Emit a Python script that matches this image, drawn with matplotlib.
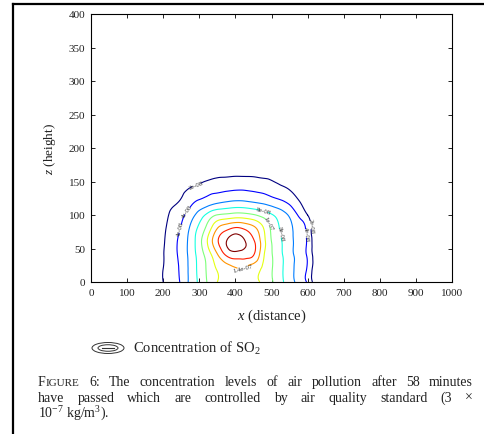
import numpy as np
import matplotlib
matplotlib.use('Agg')
import matplotlib.pyplot as plt
import matplotlib.tri as mtri
from matplotlib.lines import Line2D
from matplotlib.patches import Ellipse

# ---------------- data ----------------
x_nodes = [150, 175, 200, 225, 250, 275, 300, 325, 350, 375, 400,
           425, 450, 475, 500, 525, 550, 575, 600, 625, 650]
z_nodes = [0, 20, 40, 60, 80, 100, 120, 140, 160, 180, 200]
# SO2 concentration in units of 1e-8 kg/m^3 (rows: z_nodes, cols: x_nodes)
conc_e8 = [
    [0, 1.00, 2.00, 3.06, 4.29, 6.52, 8.40, 10.33, 12.00, 12.60, 13.20,
     13.17, 12.52, 11.71, 10.29, 8.57, 6.94, 5.39, 3.71, 0.56, 0],
    [0, 1.00, 2.00, 3.11, 4.43, 6.56, 8.56, 10.52, 12.16, 12.98, 13.80,
     13.80, 12.84, 11.81, 10.19, 8.43, 6.85, 5.35, 3.71, 0.56, 0],
    [0, 1.04, 1.92, 3.18, 4.67, 6.61, 8.82, 11.09, 13.76, 16.17, 17.00,
     16.84, 16.06, 12.67, 10.18, 8.36, 6.79, 5.31, 3.71, 0.56, 0],
    [0, 0.91, 1.82, 3.14, 4.71, 6.67, 9.29, 12.40, 15.73, 18.00, 19.30,
     18.22, 16.37, 13.18, 10.00, 8.21, 6.71, 5.28, 3.67, 0.33, 0],
    [0, 0.83, 1.67, 2.79, 4.17, 6.26, 8.50, 11.00, 14.00, 15.43, 16.30,
     15.76, 14.57, 12.38, 9.63, 7.84, 6.53, 5.17, 3.33, 0.11, 0],
    [0, 0.75, 1.49, 2.36, 3.47, 5.00, 6.89, 8.67, 10.07, 10.44, 10.80,
     10.70, 10.20, 9.33, 8.22, 7.02, 5.69, 3.79, 2.00, 0.00, 0],
    [0, 0.53, 1.05, 1.58, 2.23, 3.40, 4.30, 4.93, 5.55, 5.95, 6.20,
     6.14, 5.84, 5.49, 4.91, 4.34, 3.49, 2.21, 0.65, 0.00, 0],
    [0, 0.00, 0.00, 0.69, 1.39, 2.07, 2.63, 3.19, 3.41, 3.56, 3.70,
     3.70, 3.54, 3.34, 2.90, 2.40, 1.78, 0.67, 0.00, 0.00, 0],
    [0, 0.00, 0.00, 0.00, 0.00, 0.40, 0.80, 1.20, 1.60, 1.70, 1.80,
     1.78, 1.75, 1.58, 1.40, 0.82, 0.23, 0.00, 0.00, 0.00, 0],
    [0, 0.00, 0.00, 0.00, 0.00, 0.00, 0.20, 0.35, 0.45, 0.50, 0.55,
     0.55, 0.50, 0.40, 0.30, 0.10, 0.00, 0.00, 0.00, 0.00, 0],
    [0] * 21,
]
levels = [2e-8, 4e-8, 6e-8, 8e-8, 1e-7, 1.2e-7, 1.4e-7, 1.6e-7, 1.8e-7]
x_ticks = [0, 100, 200, 300, 400, 500, 600, 700, 800, 900, 1000]
z_ticks = [0, 50, 100, 150, 200, 250, 300, 350, 400]
xlabel = "$x$ (distance)"
ylabel = "$z$ (height)"
legend_text = "Concentration of SO$_2$"
caption_line1 = "The concentration levels of air pollution after 58 minutes"
caption_line2 = "have passed which are controlled by air quality standard (3 \u00d7"
caption_line3 = "10$^{-7}$ kg/m$^3$)."

# ---------------- style ----------------
SERIF = 'Liberation Serif'
plt.rcParams['font.family'] = SERIF
plt.rcParams['mathtext.fontset'] = 'custom'
plt.rcParams['mathtext.rm'] = SERIF
plt.rcParams['mathtext.it'] = SERIF + ':italic'
plt.rcParams['mathtext.bf'] = SERIF + ':bold'

W, H = 484, 435
fig = plt.figure(figsize=(W / 100, H / 100), dpi=100)
fig.patch.set_facecolor('white')

ax = fig.add_axes([91 / W, 1 - 283 / H, (452 - 91) / W, (283 - 15) / H])

X, Z = np.meshgrid(np.array(x_nodes, float), np.array(z_nodes, float))
C = np.array(conc_e8, float) * 1e-8
tri = mtri.Triangulation(X.ravel(), Z.ravel())
refiner = mtri.UniformTriRefiner(tri)
tri_f, c_f = refiner.refine_field(C.ravel(), subdiv=3)

cs = ax.tricontour(tri_f, c_f, levels=levels, cmap='jet',
                   vmin=levels[0], vmax=levels[-1], linewidths=0.8)
label_spots = [(290, 148), (262, 108), (258, 78), (608, 85), (590, 72),
               (520, 72), (497, 90), (478, 104), (420, 22)]
ax.clabel(cs, fmt='%g', fontsize=4.8, inline=True, inline_spacing=1,
          manual=label_spots, colors='#333333')

ax.set_xlim(0, 1000)
ax.set_ylim(0, 400)
ax.set_xticks(x_ticks)
ax.set_yticks(z_ticks)
ax.tick_params(direction='in', top=True, right=True, length=3, width=0.7,
               labelsize=8, pad=4, colors='#222222')
for s in ax.spines.values():
    s.set_linewidth(0.8)
ax.set_xlabel(xlabel, fontsize=10.5, labelpad=7, color='#222222')
ax.set_ylabel(ylabel, fontsize=9.5, labelpad=8, color='#222222')

# ---------------- overlay (pixel coordinates) ----------------
ov = fig.add_axes([0, 0, 1, 1], zorder=5)
ov.set_xlim(0, W)
ov.set_ylim(H, 0)
ov.axis('off')
ov.patch.set_alpha(0)

# frame lines of the page
ov.add_line(Line2D([13, W], [5, 5], color='black', lw=1.6))
ov.add_line(Line2D([13, 13], [5, H], color='black', lw=1.6))

# legend icon
ov.add_patch(Ellipse((108, 349), 32, 11, fill=False, lw=0.7, ec='#333333'))
ov.add_patch(Ellipse((108, 349), 20, 6.5, fill=False, lw=0.7, ec='#333333'))
ov.add_line(Line2D([102, 114], [349, 349], color='#333333', lw=0.8))
ov.text(133, 353, legend_text, fontsize=10.5, va='baseline', color='#222222')

renderer = fig.canvas.get_renderer()


def width_of(text, size):
    t = ov.text(0, 0, text, fontsize=size)
    w = t.get_window_extent(renderer).width
    t.remove()
    return w


def put_runs(x, y, runs):
    for txt, size in runs:
        ov.text(x, y, txt, fontsize=size, va='baseline', color='#222222')
        x += width_of(txt, size)
    return x


def justify(x0, x1, y, words):
    widths = [sum(width_of(t, s) for t, s in w) for w in words]
    gap = (x1 - x0 - sum(widths)) / (len(words) - 1)
    x = x0
    for w, wd in zip(words, widths):
        put_runs(x, y, w)
        x += wd + gap


FS = 10.0
first = [[("F", FS), ("IGURE", FS * 0.8)], [("6:", FS)]]
first += [[(w, FS)] for w in caption_line1.split()]
justify(38, 473, 386, first)
justify(38, 473, 402, [[(w, FS)] for w in caption_line2.split()])
put_runs(38, 418, [(caption_line3, FS)])

fig.savefig('out.png', dpi=100)
